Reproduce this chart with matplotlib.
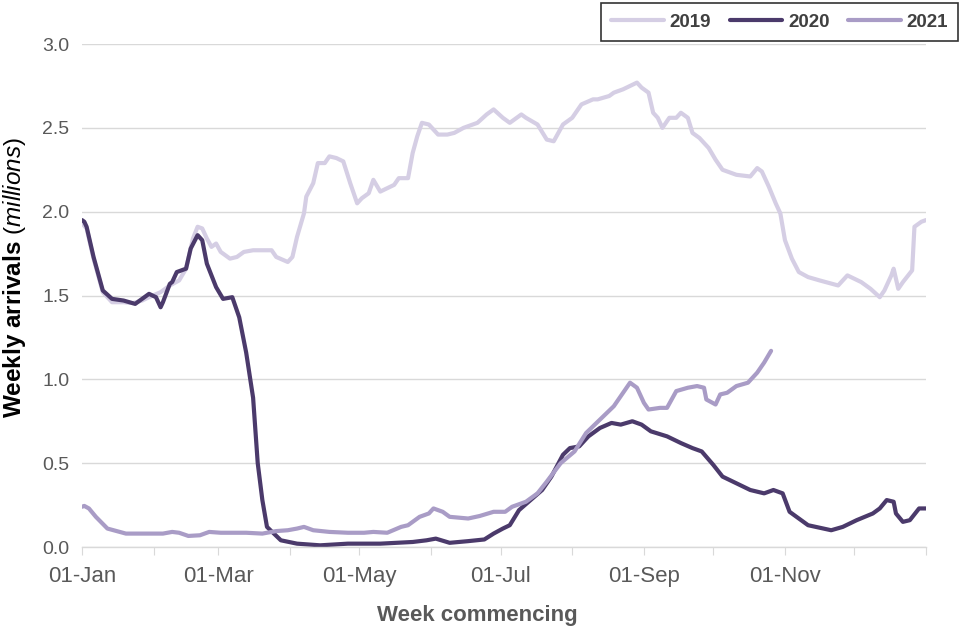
import numpy as np
import matplotlib
matplotlib.use("Agg")
import matplotlib.pyplot as plt

plt.rcParams.update({
    "font.family": "Liberation Sans",
    "mathtext.fontset": "custom",
    "mathtext.rm": "Liberation Sans",
    "mathtext.bf": "Liberation Sans:bold",
    "mathtext.it": "Liberation Sans:italic",
})

# dag i året (0 = 01-Jan), verdier i millioner
DAG_2019 = [0, 2, 5, 9, 13, 18, 22, 26, 29, 34, 38, 42, 45, 48, 50, 52, 54, 56, 58, 60,
            64, 67, 70, 74, 78, 82, 84, 89, 91, 93, 96, 97, 100, 102, 105, 107, 110, 113,
            116, 119, 121, 124, 126, 129, 132, 135, 137, 141, 143, 145, 147, 150, 154,
            158, 161, 165, 171, 175, 178, 182, 185, 190, 192, 197, 201, 204, 208, 212,
            216, 221, 223, 228, 230, 234, 237, 240, 242, 245, 247, 249, 251, 254, 257,
            259, 262, 264, 267, 271, 274, 277, 283, 289, 292, 294, 297, 300, 302, 304,
            307, 310, 314, 319, 327, 331, 337, 341, 345, 347, 350, 351, 353, 355, 359,
            360, 363, 365]
VERDI_2019 = [1.93, 1.90, 1.72, 1.52, 1.46, 1.46, 1.455, 1.47, 1.49, 1.52, 1.56, 1.59, 1.66,
              1.84, 1.91, 1.90, 1.84, 1.79, 1.81, 1.76, 1.72, 1.73, 1.76, 1.77, 1.77, 1.77,
              1.73, 1.70, 1.73, 1.85, 1.99, 2.09, 2.17, 2.29, 2.29, 2.33, 2.32, 2.30, 2.17,
              2.05, 2.08, 2.11, 2.19, 2.12, 2.14, 2.16, 2.20, 2.20, 2.35, 2.45, 2.53, 2.52,
              2.46, 2.46, 2.47, 2.50, 2.53, 2.58, 2.61, 2.56, 2.53, 2.58, 2.56, 2.52, 2.43,
              2.42, 2.52, 2.56, 2.64, 2.67, 2.67, 2.69, 2.71, 2.73, 2.75, 2.77, 2.74, 2.71,
              2.59, 2.56, 2.50, 2.56, 2.56, 2.59, 2.56, 2.47, 2.44, 2.38, 2.31, 2.25, 2.22,
              2.21, 2.26, 2.24, 2.15, 2.05, 1.99, 1.83, 1.72, 1.64, 1.61, 1.59, 1.56, 1.62,
              1.58, 1.54, 1.49, 1.53, 1.62, 1.66, 1.54, 1.58, 1.65, 1.91, 1.94, 1.95]

DAG_2020 = [0, 1, 2, 5, 9, 13, 18, 23, 26, 29, 32, 34, 35, 38, 39, 41, 45, 47, 50, 52, 54,
            58, 61, 65, 68, 71, 74, 76, 78, 80, 86, 93, 103, 115, 129, 143, 149, 153, 159,
            167, 174, 178, 182, 185, 189, 194, 199, 203, 208, 211, 215, 219, 224, 229, 233,
            238, 242, 246, 253, 259, 264, 268, 273, 277, 283, 289, 295, 299, 303, 306, 314,
            324, 329, 335, 342, 345, 348, 351, 352, 355, 358, 362, 365]
VERDI_2020 = [1.95, 1.94, 1.91, 1.73, 1.53, 1.48, 1.47, 1.45, 1.48, 1.51, 1.49, 1.43, 1.46,
              1.57, 1.58, 1.64, 1.66, 1.78, 1.86, 1.83, 1.69, 1.55, 1.48, 1.49, 1.37, 1.16,
              0.89, 0.50, 0.28, 0.12, 0.04, 0.02, 0.01, 0.02, 0.02, 0.03, 0.04, 0.05, 0.025,
              0.035, 0.045, 0.08, 0.11, 0.13, 0.22, 0.28, 0.34, 0.42, 0.55, 0.59, 0.60, 0.66,
              0.71, 0.74, 0.73, 0.75, 0.73, 0.69, 0.66, 0.62, 0.59, 0.57, 0.49, 0.42, 0.38,
              0.34, 0.32, 0.34, 0.32, 0.21, 0.13, 0.10, 0.12, 0.16, 0.20, 0.23, 0.28, 0.27,
              0.20, 0.15, 0.16, 0.23, 0.23]

DAG_2021 = [0, 1, 3, 6, 11, 19, 28, 35, 39, 42, 46, 51, 55, 60, 71, 78, 84, 89, 93, 96, 100,
            107, 115, 122, 126, 132, 138, 141, 146, 150, 152, 156, 159, 167, 172, 178, 183,
            186, 192, 197, 201, 207, 213, 218, 224, 230, 234, 237, 240, 243, 245, 250, 253,
            257, 262, 266, 269, 270, 274, 276, 279, 283, 288, 292, 295, 298]
VERDI_2021 = [0.24, 0.245, 0.23, 0.18, 0.11, 0.08, 0.08, 0.08, 0.09, 0.085, 0.066, 0.07,
              0.09, 0.085, 0.085, 0.08, 0.095, 0.10, 0.11, 0.12, 0.10, 0.09, 0.085, 0.085,
              0.09, 0.085, 0.12, 0.13, 0.18, 0.20, 0.23, 0.21, 0.18, 0.17, 0.185, 0.21, 0.21,
              0.24, 0.27, 0.32, 0.39, 0.50, 0.57, 0.68, 0.76, 0.84, 0.92, 0.98, 0.95, 0.86,
              0.82, 0.83, 0.83, 0.93, 0.95, 0.96, 0.95, 0.88, 0.85, 0.91, 0.92, 0.96, 0.98,
              1.04, 1.10, 1.17]

MAANED_START = [0, 31, 59, 90, 120, 151, 181, 212, 243, 273, 304, 334, 365]
MAANED_NAVN = ["01-Jan", "", "01-Mar", "", "01-May", "", "01-Jul", "", "01-Sep", "",
               "01-Nov", "", ""]

GRAA = "#595959"

fig = plt.figure(figsize=(9.6, 6.4), dpi=100)
ax = fig.add_axes([0.0854, 0.1453, 0.8792, 0.7859])

ax.plot(DAG_2019, VERDI_2019, color="#d5cee4", lw=3, label="2019", solid_capstyle="round", solid_joinstyle="round")
ax.plot(DAG_2020, VERDI_2020, color="#4b3a6b", lw=3, label="2020", solid_capstyle="round", solid_joinstyle="round")
ax.plot(DAG_2021, VERDI_2021, color="#a99cc6", lw=3, label="2021", solid_capstyle="round", solid_joinstyle="round")

ax.set_xlim(0, 365)
ax.set_ylim(0, 3.0)
ax.set_yticks(np.arange(0, 3.01, 0.5))
ax.set_yticklabels([f"{v:.1f}" for v in np.arange(0, 3.01, 0.5)])
ax.set_xticks(MAANED_START)
ax.set_xticklabels(MAANED_NAVN)

ax.grid(axis="y", color="#d9d9d9", lw=1)
ax.set_axisbelow(True)
for s in ["top", "right", "left"]:
    ax.spines[s].set_visible(False)
ax.spines["bottom"].set_color("#d9d9d9")
ax.spines["bottom"].set_linewidth(1)
ax.tick_params(axis="x", length=6, color="#d9d9d9", labelsize=16, labelcolor=GRAA, pad=8)
ax.tick_params(axis="y", length=0, labelsize=14, labelcolor=GRAA, pad=9)

ax.set_xlabel("Week commencing", fontsize=16, fontweight="bold", color=GRAA)
ax.xaxis.set_label_coords(0.468, -0.115)

# y-tittel som fri tekst så den ikke havner utenfor kanten
fig.text(15 / 960, 1 - 278 / 640,
         r"$\mathbf{Weekly\ arrivals}$ ($\mathit{millions}$)", fontsize=17.5,
         color="black", rotation=90, ha="center", va="center")

leg = fig.legend(loc="upper right", bbox_to_anchor=(0.998, 0.995), ncol=3, frameon=True,
                 fancybox=False, edgecolor="black", fontsize=13.5, handlelength=2.8,
                 columnspacing=1.0, handletextpad=0.3, borderpad=0.55, borderaxespad=0)
leg.get_frame().set_linewidth(1.2)
for t in leg.get_texts():
    t.set_fontweight("bold")
    t.set_color("#404040")

fig.savefig("out.png", dpi=100)
